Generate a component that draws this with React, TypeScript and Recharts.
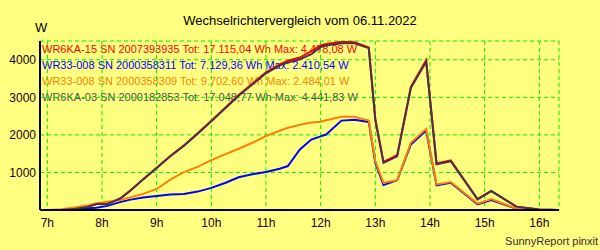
import React from 'react';
import { LineChart, Line, XAxis, YAxis, CartesianGrid } from 'recharts';

const times = [6.87, 7.0, 7.25, 7.5, 7.75, 7.9, 8.1, 8.33, 8.5, 8.75, 9.0, 9.25, 9.5, 9.75, 10.0, 10.25, 10.5, 10.75, 11.0, 11.25, 11.4, 11.62, 11.83, 12.0, 12.1, 12.38, 12.62, 12.88, 13.0, 13.15, 13.4, 13.65, 13.93, 14.12, 14.38, 14.87, 15.12, 15.58, 15.85, 16.0, 16.36];

const wr6ka15 = [0, 0, 0, 30, 90, 160, 165, 305, 495, 815, 1125, 1440, 1720, 2045, 2375, 2715, 3060, 3360, 3665, 3880, 3975, 4060, 4230, 4380, 4420, 4478, 4470, 4330, 2410, 1280, 1460, 3280, 3990, 1240, 1320, 290, 510, 90, 40, 15, 0];
const wr33_311 = [0, 0, 0, 0, 45, 60, 110, 210, 270, 330, 370, 410, 425, 490, 590, 720, 870, 950, 1010, 1100, 1170, 1610, 1875, 1960, 2010, 2380, 2405, 2345, 1250, 665, 790, 1745, 2115, 655, 725, 150, 265, 35, 0, 0, 0];
const wr33_309 = [0, 0, 20, 70, 130, 180, 220, 265, 330, 430, 560, 810, 1010, 1150, 1330, 1480, 1630, 1790, 1970, 2110, 2190, 2270, 2330, 2350, 2390, 2484, 2480, 2380, 1300, 725, 795, 1790, 2160, 680, 745, 170, 290, 40, 0, 0, 0];
const wr6ka03 = [0, 0, 0, 30, 90, 160, 160, 300, 490, 810, 1120, 1430, 1710, 2030, 2360, 2700, 3040, 3340, 3640, 3850, 3930, 4010, 4150, 4340, 4380, 4441, 4440, 4310, 2400, 1255, 1430, 3250, 3950, 1220, 1300, 285, 505, 90, 40, 15, 0];

const hourTicks = [7, 8, 9, 10, 11, 12, 13, 14, 15, 16];
const yTicks = [1000, 2000, 3000, 4000];

const legendTexts = [
  'WR6KA-15 SN 2007393935 Tot: 17.115,04 Wh Max: 4.478,08 W',
  'WR33-008 SN 2000358311 Tot: 7.129,36 Wh Max: 2.410,54 W',
  'WR33-008 SN 2000358309 Tot: 9.702,60 Wh Max: 2.484,01 W',
  'WR6KA-03 SN 2000182853 Tot: 17.048,77 Wh Max: 4.441,83 W',
];
const legendColors = ['#FF0000', '#0000FF', '#FF8000', '#505050'];
const lineColors = ['#FF0000', '#0000FF', '#FF8000', '#4B3050'];
const seriesKeys = ['wr6ka15', 'wr33_311', 'wr33_309', 'wr6ka03'];

const data = times.map((t, i) => ({
  t,
  wr6ka15: wr6ka15[i],
  wr33_311: wr33_311[i],
  wr33_309: wr33_309[i],
  wr6ka03: wr6ka03[i],
}));

const FONT = '"Liberation Sans", Arial, sans-serif';
const xDomain: [number, number] = [6.866, 16.36];
const yDomain: [number, number] = [0, 4500];

export default function App() {
  return (
    <div style={{ position: 'fixed', left: 0, top: 0, width: 600, height: 250, background: '#FFFF80', fontFamily: FONT }}>
      <svg width={600} height={250} style={{ position: 'absolute', left: 0, top: 0 }}>
        <text x={300} y={25} textAnchor="middle" fontSize={13} fill="#000" fontFamily={FONT}>
          Wechselrichtervergleich vom 06.11.2022
        </text>
        <text x={35} y={32} fontSize={13} fill="#000" fontFamily={FONT}>W</text>
        {legendTexts.map((txt, i) => (
          <text key={i} x={42} y={53 + 16 * i} fontSize={11} fill={legendColors[i]} fontFamily={FONT}>
            {txt}
          </text>
        ))}
        <text x={598} y={245} textAnchor="end" fontSize={11} fill="#3a2a3a" fontFamily={FONT}>
          SunnyReport pinxit
        </text>
      </svg>
      <div style={{ position: 'absolute', left: 0, top: 0 }}>
        <LineChart width={600} height={250} data={data} margin={{ top: 41, right: 41, bottom: 0, left: 0 }}>
          <CartesianGrid stroke="#00EE00" strokeDasharray="4 3" />
          <XAxis
            dataKey="t"
            type="number"
            domain={xDomain}
            ticks={hourTicks}
            tickFormatter={(v: number) => `${v}h`}
            height={40}
            tickLine={false}
            axisLine={{ stroke: '#000', strokeWidth: 2 }}
            tick={{ fill: '#1a001a', fontSize: 12, fontFamily: FONT }}
            allowDataOverflow
          />
          <XAxis
            xAxisId="top"
            orientation="top"
            dataKey="t"
            type="number"
            domain={xDomain}
            height={0}
            tick={false}
            tickLine={false}
            axisLine={{ stroke: '#000', strokeWidth: 2 }}
            allowDataOverflow
          />
          <YAxis
            type="number"
            domain={yDomain}
            ticks={yTicks}
            width={40}
            tickLine={false}
            tickSize={3}
            tickMargin={1}
            axisLine={{ stroke: '#000', strokeWidth: 2 }}
            tick={{ fill: '#1a001a', fontSize: 12, fontFamily: FONT }}
            allowDataOverflow
          />
          <YAxis
            yAxisId="right"
            orientation="right"
            type="number"
            domain={yDomain}
            width={0}
            tick={false}
            tickLine={false}
            axisLine={{ stroke: '#000', strokeWidth: 2 }}
          />
          {seriesKeys.map((k, i) => (
            <Line
              key={k}
              dataKey={k}
              type="linear"
              stroke={lineColors[i]}
              strokeWidth={2}
              dot={false}
              activeDot={false}
              isAnimationActive={false}
            />
          ))}
        </LineChart>
      </div>
    </div>
  );
}
